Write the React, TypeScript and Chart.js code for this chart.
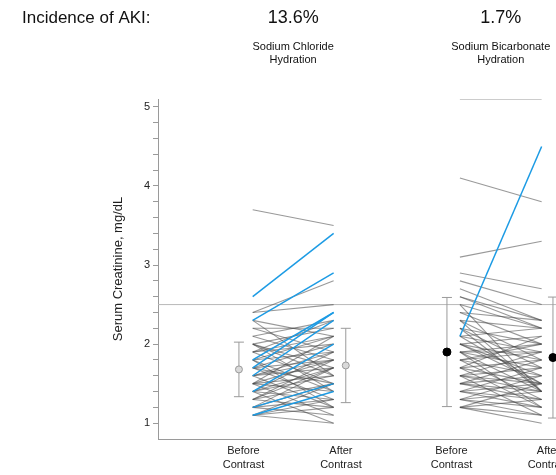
import React, { useEffect, useRef } from "react";
import { Chart, registerables } from "chart.js";

Chart.register(...registerables);

// ---------- data ----------
const incidenceTitle = "Incidence of AKI:";
const incidence = ["13.6%", "1.7%"];
const groupNames = [
  ["Sodium Chloride", "Hydration"],
  ["Sodium Bicarbonate", "Hydration"],
];
const xTickLabels = [
  ["Before", "Contrast"],
  ["After", "Contrast"],
  ["Before", "Contrast"],
  ["After", "Contrast"],
];
const yTickValues = [1, 1.2, 1.4, 1.6, 1.8, 2, 2.2, 2.4, 2.6, 2.8, 3, 3.2, 3.4, 3.6, 3.8, 4, 4.2, 4.4, 4.6, 4.8, 5];
const yAxisTitle = "Serum Creatinine, mg/dL";
const akiThreshold = 2.5;

// Sodium chloride group: patients with AKI (blue) and without (gray)
const naclAkiBefore = [2.6, 2.3, 1.8, 1.7, 1.6, 1.4, 1.2, 1.1];
const naclAkiAfter = [3.4, 2.9, 2.4, 2.4, 2.3, 2.0, 1.5, 1.4];
const naclBefore = [3.7, 2.4, 2.4, 2.3, 2.3, 2.2, 2.2, 2.1, 2.1, 2.0, 2.0, 2.0, 1.9, 1.9, 1.9, 1.9, 1.8, 1.8, 1.8, 1.8, 1.7, 1.7, 1.7, 1.7, 1.6, 1.6, 1.6, 1.6, 1.5, 1.5, 1.5, 1.5, 1.5, 1.4, 1.4, 1.4, 1.4, 1.4, 1.3, 1.3, 1.3, 1.3, 1.2, 1.2, 1.2, 1.2, 1.1, 1.1, 1.1, 1.1, 2.0];
const naclAfter = [3.5, 2.8, 2.5, 2.1, 1.6, 2.2, 1.9, 2.3, 1.8, 2.2, 1.7, 1.4, 2.1, 1.5, 2.0, 2.3, 1.9, 1.4, 2.1, 1.2, 1.8, 1.5, 1.3, 2.0, 1.9, 1.7, 1.2, 1.8, 1.8, 1.6, 1.1, 2.1, 1.4, 1.7, 1.9, 1.3, 1.6, 1.0, 1.5, 1.8, 1.2, 1.7, 1.5, 1.3, 1.7, 1.1, 1.2, 1.5, 1.0, 1.3, 1.6];

// Sodium bicarbonate group
const bicAkiBefore = [2.1];
const bicAkiAfter = [4.5];
const bicBefore = [5.1, 4.1, 3.1, 2.9, 2.8, 2.7, 2.6, 2.6, 2.5, 2.5, 2.4, 2.4, 2.3, 2.3, 2.3, 2.2, 2.2, 2.2, 2.1, 2.1, 2.1, 2.0, 2.0, 2.0, 2.0, 1.9, 1.9, 1.9, 1.9, 1.9, 1.8, 1.8, 1.8, 1.8, 1.7, 1.7, 1.7, 1.7, 1.6, 1.6, 1.6, 1.6, 1.6, 1.5, 1.5, 1.5, 1.5, 1.4, 1.4, 1.4, 1.4, 1.3, 1.3, 1.3, 1.3, 1.2, 1.2, 1.2, 1.2];
const bicAfter = [5.1, 3.8, 3.3, 2.7, 2.5, 2.3, 2.2, 2.3, 1.4, 2.2, 2.0, 2.3, 2.2, 1.8, 1.4, 2.0, 1.7, 1.4, 2.2, 1.9, 1.5, 2.1, 1.8, 1.6, 1.5, 2.0, 1.7, 1.4, 1.9, 1.2, 1.9, 1.6, 1.3, 2.0, 1.8, 1.5, 1.2, 2.1, 1.7, 1.4, 1.9, 1.1, 1.5, 1.6, 1.3, 1.8, 1.4, 1.5, 1.2, 1.7, 1.3, 1.4, 1.1, 1.6, 1.2, 1.3, 1.0, 1.5, 1.1];

// Mean ± SD summaries: [NaCl before, NaCl after, Bicarb before, Bicarb after]
const summaryMean = [1.68, 1.73, 1.9, 1.83];
const summarySd = [0.345, 0.47, 0.69, 0.765];

// ---------- layout (x positions in axis units) ----------
const X_MIN = -0.17;
const X_MAX = 5.6;
const groupX = [
  { before: 1, after: 2 },
  { before: 3.56, after: 4.57 },
];
const summaryX = [0.83, 2.15, 3.4, 4.71];
const xTickX = [0.886, 2.09, 3.456, 4.654];

const FONT = '"Liberation Sans", Arial, Helvetica, sans-serif';
const GRAY_LINE = "rgba(70,70,70,0.55)";
const BLUE_LINE = "#1c9be4";
const AXIS = "#9a9a9a";

function pairDatasets(before: number[], after: number[], g: { before: number; after: number }, color: string, width: number) {
  return before.map((b, i) => ({
    type: "scatter" as const,
    data: [
      { x: g.before, y: b },
      { x: g.after, y: after[i] },
    ],
    showLine: true,
    borderColor: color,
    borderWidth: width,
    pointRadius: 0,
    pointHoverRadius: 0,
    fill: false,
  }));
}

const headerPlugin = {
  id: "header",
  afterDraw(chart: any) {
    const { ctx } = chart;
    const xs = chart.scales.x;
    ctx.save();
    ctx.fillStyle = "#111";
    ctx.textBaseline = "alphabetic";
    ctx.font = `17px ${FONT}`;
    ctx.textAlign = "left";
    ctx.fillText(incidenceTitle, 22, 23);
    ctx.textAlign = "center";
    groupX.forEach((g, i) => {
      const cx = xs.getPixelForValue((g.before + g.after) / 2);
      ctx.font = `18px ${FONT}`;
      ctx.fillText(incidence[i], cx, 23);
      ctx.font = `11px ${FONT}`;
      ctx.fillText(groupNames[i][0], cx, 50);
      ctx.fillText(groupNames[i][1], cx, 63);
    });
    ctx.restore();
  },
};

export default function App() {
  const ref = useRef<HTMLCanvasElement | null>(null);

  useEffect(() => {
    if (!ref.current) return;
    const datasets: any[] = [];

    // summary markers (top-most)
    summaryMean.forEach((m, i) => {
      const filled = i >= 2;
      datasets.push({
        type: "scatter",
        data: [{ x: summaryX[i], y: m }],
        pointStyle: "circle",
        pointRadius: filled ? 4 : 3.5,
        pointHoverRadius: filled ? 4 : 3.5,
        pointBackgroundColor: filled ? "#000" : "#d9d9d9",
        pointBorderColor: filled ? "#000" : "#9a9a9a",
        pointBorderWidth: 1,
      });
    });
    // whiskers with caps
    summaryMean.forEach((m, i) => {
      datasets.push({
        type: "scatter",
        data: [
          { x: summaryX[i], y: m - summarySd[i] },
          { x: summaryX[i], y: m + summarySd[i] },
        ],
        showLine: true,
        borderColor: AXIS,
        borderWidth: 1,
        pointStyle: "line",
        pointRadius: 5,
        pointHoverRadius: 5,
        pointBorderColor: AXIS,
        pointBorderWidth: 1,
      });
    });
    datasets.push(...pairDatasets(naclAkiBefore, naclAkiAfter, groupX[0], BLUE_LINE, 1.5));
    datasets.push(...pairDatasets(bicAkiBefore, bicAkiAfter, groupX[1], BLUE_LINE, 1.5));
    datasets.push(...pairDatasets(naclBefore, naclAfter, groupX[0], GRAY_LINE, 1.1));
    datasets.push(...pairDatasets(bicBefore, bicAfter, groupX[1], GRAY_LINE, 1.1));
    // threshold line
    datasets.push({
      type: "scatter",
      data: [
        { x: X_MIN, y: akiThreshold },
        { x: X_MAX, y: akiThreshold },
      ],
      showLine: true,
      borderColor: "#b8b8b8",
      borderWidth: 1,
      pointRadius: 0,
      pointHoverRadius: 0,
    });

    const chart = new Chart(ref.current, {
      type: "scatter",
      data: { datasets },
      options: {
        animation: false,
        responsive: false,
        maintainAspectRatio: false,
        devicePixelRatio: 1,
        events: [],
        layout: { autoPadding: false, padding: { top: 99, left: 0, right: 0, bottom: 0 } },
        plugins: {
          legend: { display: false },
          tooltip: { enabled: false },
          title: { display: false },
        },
        scales: {
          x: {
            type: "linear",
            min: X_MIN,
            max: X_MAX,
            afterBuildTicks: (s: any) => {
              s.ticks = xTickX.map((v) => ({ value: v }));
            },
            afterFit: (s: any) => {
              s.height = 36;
            },
            ticks: {
              autoSkip: false,
              maxRotation: 0,
              minRotation: 0,
              padding: 5,
              color: "#222",
              font: { family: FONT, size: 11, lineHeight: 1.27 },
              callback: (_v: any, i: number) => xTickLabels[i],
            },
            grid: { display: false, drawTicks: false },
            border: { display: true, color: AXIS, width: 1 },
          },
          y: {
            type: "linear",
            min: 0.8,
            max: 5.1,
            afterBuildTicks: (s: any) => {
              s.ticks = yTickValues.map((v) => ({ value: v }));
            },
            afterFit: (s: any) => {
              s.width = 158;
            },
            ticks: {
              autoSkip: false,
              padding: 3,
              color: "#222",
              font: { family: FONT, size: 11 },
              callback: (v: any) => (Number.isInteger(v) ? String(v) : ""),
            },
            grid: { drawOnChartArea: false, drawTicks: true, tickLength: 5, color: AXIS },
            border: { display: true, color: AXIS, width: 1 },
            title: {
              display: true,
              text: yAxisTitle,
              color: "#222",
              font: { family: FONT, size: 13 },
              padding: { top: 111, bottom: 0 },
            },
          },
        },
      },
      plugins: [headerPlugin],
    } as any);

    return () => chart.destroy();
  }, []);

  return (
    <div
      style={{
        position: "fixed",
        left: 0,
        top: 0,
        width: 556,
        height: 475,
        overflow: "hidden",
        background: "#fff",
      }}
    >
      <canvas ref={ref} width={625} height={475} style={{ display: "block", width: 625, height: 475 }} />
    </div>
  );
}
